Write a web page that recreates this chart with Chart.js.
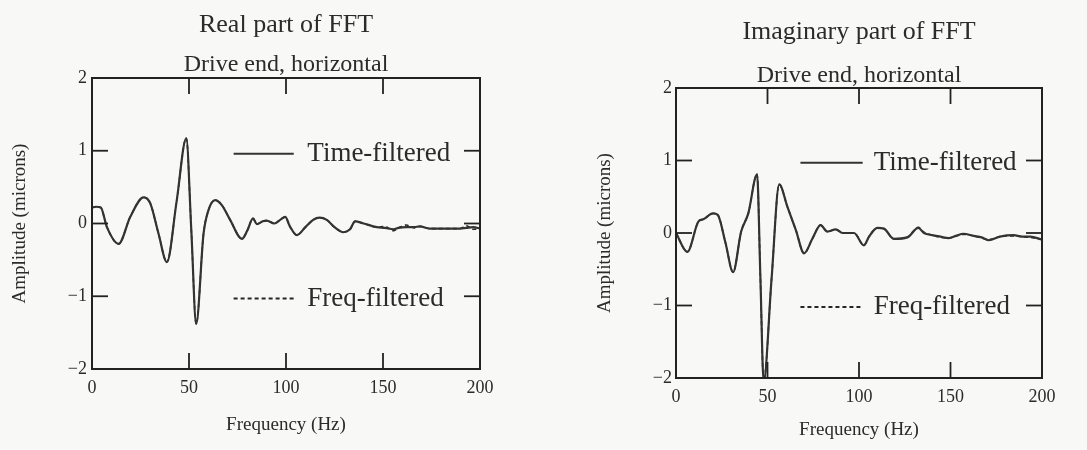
<!DOCTYPE html>
<html><head><meta charset="utf-8">
<script src="https://cdn.jsdelivr.net/npm/chart.js@4/dist/chart.umd.min.js"></script>
<style>
html,body{margin:0;padding:0;background:#f8f8f7;}
#wrap{position:relative;width:1087px;height:450px;overflow:hidden;background:#f8f8f7;}
#c1{position:absolute;left:0;top:0;}
#c2{position:absolute;left:540px;top:0;}
</style></head><body>
<div id="wrap"><canvas id="c1" width="540" height="450"></canvas><canvas id="c2" width="547" height="450"></canvas></div>
<script>
// ---- data ----
const realFreq = [0, 2, 4.5, 7.7, 13.7, 19.7, 26.6, 30, 34.3, 38.6, 43.6, 48.6, 51.2, 53.7, 57.5, 60, 63.5, 67, 71.2, 77.3, 80, 83, 85, 88, 90, 94, 97, 99.6, 102, 105.6, 110, 114, 117.3, 121, 125, 129.6, 133, 135.6, 140, 146.8, 151, 155.4, 158, 162, 166, 169, 174, 180, 185, 189.7, 193, 196.6, 200];
const realTimeFiltered = [0.22, 0.23, 0.22, -0.05, -0.28, 0.09, 0.36, 0.28, -0.14, -0.53, 0.3, 1.17, -0.1, -1.38, -0.14, 0.18, 0.32, 0.25, 0.05, -0.21, -0.1, 0.07, -0.01, 0.03, 0.04, 0.0, 0.05, 0.09, -0.04, -0.16, -0.05, 0.05, 0.08, 0.05, -0.05, -0.12, -0.08, 0.03, 0.0, -0.05, -0.06, -0.08, -0.06, -0.05, -0.05, -0.04, -0.07, -0.07, -0.07, -0.07, -0.06, -0.05, -0.07];
const realFreqFiltered = [0.22, 0.23, 0.22, -0.05, -0.28, 0.09, 0.36, 0.28, -0.14, -0.53, 0.3, 1.17, -0.1, -1.38, -0.14, 0.18, 0.32, 0.25, 0.05, -0.21, -0.1, 0.07, -0.01, 0.03, 0.04, 0.0, 0.05, 0.09, -0.04, -0.16, -0.05, 0.05, 0.08, 0.05, -0.05, -0.12, -0.08, 0.03, 0.0, -0.05, -0.04, -0.1, -0.06, -0.02, -0.06, -0.04, -0.07, -0.07, -0.07, -0.07, -0.03, -0.08, -0.07];

const imagFreq = [0, 6.2, 12.3, 14.9, 20.2, 22.8, 27, 31.2, 35.6, 39.5, 44.3, 46.1, 47.9, 52.2, 56.4, 60.9, 65.5, 70, 74.5, 79, 82.7, 87.3, 91, 97.3, 102.7, 105.5, 110, 113.6, 119, 126.4, 132.4, 135.5, 140, 144.5, 149, 153, 157, 162.7, 167, 171, 177, 184.5, 189, 193.6, 200];
const imagTimeFiltered = [0, -0.26, 0.16, 0.19, 0.27, 0.25, -0.13, -0.54, 0.02, 0.27, 0.81, -0.6, -2.05, -0.64, 0.67, 0.36, 0.04, -0.28, -0.08, 0.11, 0.02, 0.05, 0.0, 0.0, -0.17, -0.05, 0.07, 0.06, -0.08, -0.06, 0.07, 0.0, -0.03, -0.05, -0.07, -0.04, -0.01, -0.04, -0.06, -0.1, -0.05, -0.03, -0.05, -0.05, -0.09];
const imagFreqFiltered = [0, -0.26, 0.16, 0.19, 0.27, 0.25, -0.13, -0.54, 0.02, 0.27, 0.81, -0.6, -2.05, -0.64, 0.67, 0.36, 0.04, -0.28, -0.08, 0.11, 0.02, 0.05, 0.0, 0.0, -0.17, -0.05, 0.07, 0.06, -0.08, -0.06, 0.08, 0.01, -0.03, -0.06, -0.07, -0.04, -0.02, -0.04, -0.07, -0.09, -0.05, -0.04, -0.05, -0.06, -0.09];

const xTickLabels = ['0', '50', '100', '150', '200'];
const yTickLabels = ['\u22122', '\u22121', '0', '1', '2'];
const seriesLabels = ['Time-filtered', 'Freq-filtered'];
const chartTitles = ['Real part of FFT', 'Imaginary part of FFT'];
const subTitle = 'Drive end, horizontal';
const xAxisTitle = 'Frequency (Hz)';
const yAxisTitle = 'Amplitude (microns)';

// ---- rendering ----
const FONT = "'Liberation Serif', 'Times New Roman', serif";
const INK = '#2b2b2b';
Chart.defaults.font.family = FONT;
Chart.defaults.color = INK;

const figDecor = {
  id: 'figDecor',
  afterDatasetsDraw(chart, args, opts) {
    const {ctx, chartArea: a, scales: {x, y}} = chart;
    ctx.save();
    ctx.strokeStyle = '#222';
    ctx.lineWidth = 2;
    ctx.strokeRect(a.left, a.top, a.right - a.left, a.bottom - a.top);
    const L = 16;
    ctx.lineWidth = 1.8;
    const seg = (x1, y1, x2, y2) => { ctx.beginPath(); ctx.moveTo(x1, y1); ctx.lineTo(x2, y2); ctx.stroke(); };
    [50, 100, 150].forEach(v => {
      const px = x.getPixelForValue(v);
      seg(px, a.top, px, a.top + L);
      seg(px, a.bottom, px, a.bottom - L);
    });
    [-1, 0, 1].forEach(v => {
      const py = y.getPixelForValue(v);
      seg(a.left, py, a.left + L, py);
      seg(a.right, py, a.right - L, py);
    });
    // legend
    (opts.items || []).forEach((it, i) => {
      const ds = chart.data.datasets[i];
      const py = y.getPixelForValue(it.v);
      ctx.strokeStyle = ds.borderColor;
      ctx.lineWidth = 2;
      ctx.setLineDash(ds.borderDash || []);
      seg(x.getPixelForValue(it.f1), py, x.getPixelForValue(it.f2), py);
      ctx.setLineDash([]);
      ctx.fillStyle = INK;
      ctx.font = "27px " + FONT;
      ctx.textBaseline = 'middle';
      ctx.textAlign = 'left';
      ctx.fillText(ds.label, x.getPixelForValue(it.ft), py);
    });
    ctx.restore();
  }
};

function makeChart(id, freq, timeVals, freqVals, title, cfg) {
  return new Chart(document.getElementById(id), {
    type: 'line',
    data: {
      datasets: [
        {label: seriesLabels[0], data: freq.map((f, i) => ({x: f, y: timeVals[i]})), clip: 0,
         borderColor: '#333333', borderWidth: 2.2, pointRadius: 0, cubicInterpolationMode: 'monotone', fill: false},
        {label: seriesLabels[1], data: freq.map((f, i) => ({x: f, y: freqVals[i]})), clip: 0,
         borderColor: '#262626', borderWidth: 1.6, borderDash: [4, 3], pointRadius: 0, cubicInterpolationMode: 'monotone', fill: false}
      ]
    },
    options: {
      responsive: false, animation: false, devicePixelRatio: 1,
      layout: {padding: {left: 0, right: cfg.padRight, top: 0, bottom: 0}},
      plugins: {
        legend: {display: false}, tooltip: {enabled: false},
        title: {display: true, text: title, fullSize: false, color: INK,
                font: {size: 26, weight: 'normal', lineHeight: 1.2}, padding: {top: cfg.titlePadTop, bottom: 0}},
        subtitle: {display: true, text: subTitle, fullSize: false, color: INK,
                font: {size: 24, weight: 'normal', lineHeight: 1.0}, padding: {top: cfg.subPadTop, bottom: cfg.subPadBottom}},
        figDecor: {items: cfg.legend}
      },
      scales: {
        x: {type: 'linear', min: 0, max: 200,
            afterFit: s => { s.height = cfg.xHeight; },
            ticks: {stepSize: 50, padding: 8, maxRotation: 0, autoSkip: false, color: INK, font: {size: 18},
                    callback: v => xTickLabels[Math.round(v / 50)]},
            grid: {display: false, drawTicks: false}, border: {display: false},
            title: {display: true, text: xAxisTitle, color: INK, font: {size: 19}, padding: {top: 0, bottom: cfg.xTitlePad}}},
        y: {type: 'linear', min: -2, max: 2,
            afterFit: s => { s.width = cfg.yWidth; },
            ticks: {stepSize: 1, padding: cfg.yTickPad, color: INK, font: {size: 18},
                    callback: v => yTickLabels[Math.round(v) + 2]},
            grid: {display: false, drawTicks: false}, border: {display: false},
            title: {display: true, text: yAxisTitle, color: INK, font: {size: 19}, padding: {top: cfg.yTitlePad, bottom: 0}}}
      }
    },
    plugins: [figDecor]
  });
}

makeChart('c1', realFreq, realTimeFiltered, realFreqFiltered, chartTitles[0], {
  padRight: 60, titlePadTop: 9.4, subPadTop: 12.4, subPadBottom: 1,
  xHeight: 81, xTitlePad: 13.6, yWidth: 92, yTickPad: 5, yTitlePad: 8.6,
  legend: [{v: 0.96, f1: 73, f2: 104, ft: 111}, {v: -1.03, f1: 73, f2: 104, ft: 111}]
});
makeChart('c2', imagFreq, imagTimeFiltered, imagFreqFiltered, chartTitles[1], {
  padRight: 45, titlePadTop: 16.4, subPadTop: 16.4, subPadBottom: 0,
  xHeight: 72, xTitlePad: 8.6, yWidth: 136, yTickPad: 4, yTitlePad: 53.6,
  legend: [{v: 0.97, f1: 68, f2: 102, ft: 108}, {v: -1.02, f1: 68, f2: 102, ft: 108}]
});
</script>
</body></html>
